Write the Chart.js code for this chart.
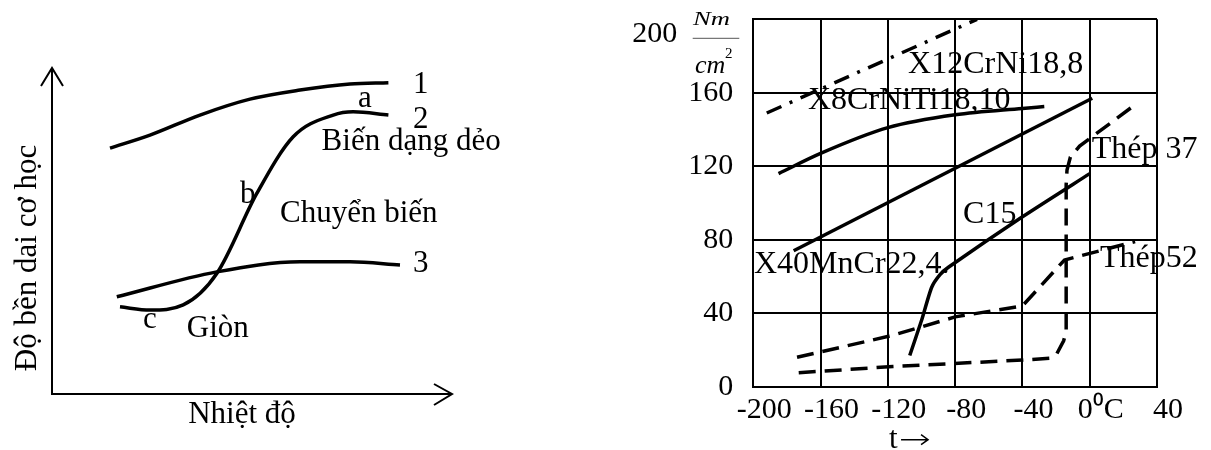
<!DOCTYPE html>
<html>
<head>
<meta charset="utf-8">
<script src="https://cdn.jsdelivr.net/npm/chart.js@4/dist/chart.umd.min.js"></script>
<style>
  body { margin: 0; background: #fff; }
  #wrap { position: relative; width: 1211px; height: 450px; }
  .box { position: absolute; top: 0; height: 450px; }
</style>
</head>
<body>
<div id="wrap">
  <div class="box" style="left:0;width:560px"><canvas id="schema"></canvas></div>
  <div class="box" style="left:600px;width:611px"><canvas id="steels"></canvas></div>
</div>
<script>
// left sketch: relative temperature (0..100) vs relative toughness (0..100)
const curve1X = [14.5, 24.5, 37, 49.5, 62, 74.5, 84.1];
const curve1Y = [75.9, 79.9, 86.1, 91, 93.8, 95.7, 96.1];
const curve2X = [17, 24.5, 32.8, 41.2, 51.2, 60.3, 70.3, 75.3, 84.1];
const curve2Y = [26.9, 25.9, 27.5, 37.2, 61.9, 79.4, 86.1, 87.1, 86.1];
const curve3X = [16.2, 41.2, 62, 74.5, 87];
const curve3Y = [30.0, 37.7, 40.8, 40.8, 39.8];

// right chart: temperature (°C) vs impact toughness (Nm/cm²)
const tempTicks = [-200, -160, -120, -80, -40, 0, 40];
const x12T = [-192, -67];
const x12V = [149, 200];
const x8T = [-185, -160, -120, -80, -40, -27];
const x8V = [116, 127, 141, 148, 151.5, 152.5];
const x40T = [-176, 1.5];
const x40V = [74, 157];
const c15T = [-107, -100, -94, -89, -84, -40, 0];
const c15V = [17, 36, 54, 61, 65, 92.5, 116];
const st37T = [-173, -117, -40, -24, -19.5, -15.5, -14, -14, -13.5, -11.5, -6, 27];
const st37V = [7.6, 11, 14.5, 15.5, 18, 25, 30, 110, 118, 125, 131, 153.5];
const st52T = [-174, -117, -80, -40, -15, 27];
const st52V = [16, 28, 38, 44, 69, 79];

const SERIF = '"Liberation Serif", "Times New Roman", serif';

const pts = (xs, ys) => xs.map((v, i) => ({ x: v, y: ys[i] }));

const schemaNotes = [
  ['1', 90.25, 92.8], ['2', 90.25, 82.0], ['3', 90.25, 37.7],
  ['a', 76.5, 88.7], ['b', 47, 58.9], ['c', 22.75, 20.3],
  ['Biến dạng dẻo', 67.4, 75.3], ['Chuyển biến', 57, 53.2], ['Giòn', 33.7, 17.7]
];

const steelNotes = [
  ['X12CrNi18,8', -108, 170.9],
  ['X8CrNiTi18,10', -167.5, 151],
  ['Thép 37', 1.2, 124.5],
  ['C15', -75.3, 89],
  ['X40MnCr22,4.', -199.6, 61.7],
  ['Thép52', 6.1, 65.3]
];

// axes with open arrow heads and the texts of the sketch
const schemaDecor = {
  id: 'schemaDecor',
  afterDraw(chart) {
    const { ctx, chartArea: a, scales: { x, y } } = chart;
    ctx.save();
    ctx.strokeStyle = '#000';
    ctx.lineWidth = 2;
    ctx.beginPath();
    ctx.moveTo(a.left, a.top - 2);
    ctx.lineTo(a.left, a.bottom);
    ctx.lineTo(a.right, a.bottom);
    ctx.moveTo(a.left - 11, a.top + 16);
    ctx.lineTo(a.left, a.top - 2);
    ctx.lineTo(a.left + 11, a.top + 16);
    ctx.moveTo(a.right - 18, a.bottom - 10);
    ctx.lineTo(a.right, a.bottom);
    ctx.lineTo(a.right - 18, a.bottom + 11);
    ctx.stroke();

    ctx.fillStyle = '#000';
    ctx.font = '31px ' + SERIF;
    schemaNotes.forEach(([t, tx, ty]) => ctx.fillText(t, x.getPixelForValue(tx), y.getPixelForValue(ty)));

    ctx.textAlign = 'center';
    ctx.fillText('Nhiệt độ', x.getPixelForValue(47.5), a.bottom + 29);
    ctx.translate(a.left - 16, y.getPixelForValue(42));
    ctx.rotate(-Math.PI / 2);
    ctx.fillText('Độ bền dai cơ học', 0, 0);
    ctx.restore();
  }
};

// curve labels, "t→" and the unit next to 200
const steelDecor = {
  id: 'steelDecor',
  afterDraw(chart) {
    const { ctx, chartArea: a, scales: { x, y } } = chart;
    ctx.save();
    ctx.fillStyle = '#000';
    ctx.font = '32px ' + SERIF;
    steelNotes.forEach(([t, tx, ty]) => ctx.fillText(t, x.getPixelForValue(tx), y.getPixelForValue(ty)));

    // axis name: "t" followed by a thin arrow
    const tx = x.getPixelForValue(-108);
    const ty = a.bottom + 61;
    ctx.font = '31px ' + SERIF;
    ctx.fillText('t', tx - 19, ty);
    ctx.strokeStyle = '#000';
    ctx.lineWidth = 1.5;
    ctx.beginPath();
    ctx.moveTo(tx - 7, ty - 8);
    ctx.lineTo(tx + 20, ty - 8);
    ctx.moveTo(tx + 13, ty - 13);
    ctx.lineTo(tx + 20, ty - 8);
    ctx.lineTo(tx + 13, ty - 3);
    ctx.stroke();

    const y200 = y.getPixelForValue(200);
    ctx.textAlign = 'right';
    ctx.font = '30px ' + SERIF;
    ctx.fillText('200', a.left - 76, y200 + 22.4);

    ctx.textAlign = 'left';
    ctx.save();
    ctx.translate(a.left - 60.3, y200 + 5.7);
    ctx.scale(1.4, 1);
    ctx.font = 'italic 19px ' + SERIF;
    ctx.fillText('Nm', 0, 0);
    ctx.restore();

    ctx.strokeStyle = '#555';
    ctx.lineWidth = 1;
    ctx.beginPath();
    ctx.moveTo(a.left - 60.6, y200 + 19);
    ctx.lineTo(a.left - 14, y200 + 19);
    ctx.stroke();

    ctx.font = 'italic 26px ' + SERIF;
    ctx.fillText('cm', a.left - 58.3, y200 + 54);
    ctx.font = '15px ' + SERIF;
    ctx.fillText('2', a.left - 28.3, y200 + 39);
    ctx.restore();
  }
};

const sketchLine = (xs, ys) => ({
  data: pts(xs, ys),
  borderColor: '#000',
  borderWidth: 3.5,
  cubicInterpolationMode: 'monotone',
  pointRadius: 0
});

new Chart(document.getElementById('schema'), {
  type: 'line',
  data: {
    datasets: [
      sketchLine(curve1X, curve1Y),
      sketchLine(curve2X, curve2Y),
      sketchLine(curve3X, curve3Y)
    ]
  },
  options: {
    responsive: true,
    maintainAspectRatio: false,
    animation: false,
    layout: { padding: { left: 52, top: 70, right: 108, bottom: 56 } },
    plugins: { legend: { display: false }, tooltip: { enabled: false } },
    scales: {
      x: { type: 'linear', min: 0, max: 100, display: false },
      y: { type: 'linear', min: 0, max: 100, display: false }
    }
  },
  plugins: [schemaDecor]
});

const steelLine = (xs, ys, dash, opts) => Object.assign({
  data: pts(xs, ys),
  borderColor: '#000',
  borderWidth: 3.5,
  borderDash: dash,
  tension: 0,
  pointRadius: 0
}, opts || {});

const tickFont = { family: SERIF, size: 30 };

new Chart(document.getElementById('steels'), {
  type: 'line',
  data: {
    datasets: [
      steelLine(x12T, x12V, [16, 9, 3, 9]),
      steelLine(x8T, x8V, [], { cubicInterpolationMode: 'monotone' }),
      steelLine(x40T, x40V, []),
      steelLine(c15T, c15V, [], { tension: 0.2 }),
      steelLine(st37T, st37V, [17, 9]),
      steelLine(st52T, st52V, [17, 9])
    ]
  },
  options: {
    responsive: true,
    maintainAspectRatio: false,
    animation: false,
    layout: { padding: { top: 19.3, right: 54, left: 0, bottom: 0 } },
    plugins: { legend: { display: false }, tooltip: { enabled: false } },
    scales: {
      x: {
        type: 'linear',
        min: tempTicks[0],
        max: tempTicks[tempTicks.length - 1],
        afterFit: s => { s.height = 63.3; s.paddingLeft = 0; s.paddingRight = 0; },
        afterBuildTicks: s => { s.ticks = tempTicks.map(v => ({ value: v })); },
        border: { color: '#000', width: 2 },
        grid: { color: '#000', lineWidth: 2, drawTicks: false },
        ticks: {
          color: '#000',
          font: tickFont,
          padding: 5,
          labelOffset: 11,
          maxRotation: 0,
          autoSkip: false,
          callback: v => v === 0 ? '0\u2070C' : String(v)
        }
      },
      y: {
        type: 'linear',
        min: 0,
        max: 200,
        afterFit: s => { s.width = 153.3; s.paddingTop = 0; s.paddingBottom = 0; },
        border: { color: '#000', width: 2 },
        grid: { color: '#000', lineWidth: 2, drawTicks: false },
        ticks: {
          stepSize: 40,
          color: '#000',
          font: tickFont,
          padding: 20,
          callback: v => v === 200 ? '' : String(v)
        }
      }
    }
  },
  plugins: [steelDecor]
});
</script>
</body>
</html>
